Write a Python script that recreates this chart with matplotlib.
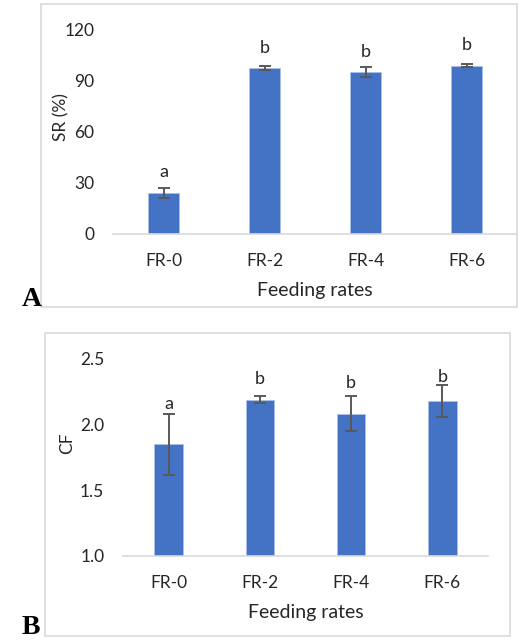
import matplotlib
matplotlib.use("Agg")
import matplotlib.pyplot as plt
from matplotlib.patches import Rectangle

categories = ["FR-0", "FR-2", "FR-4", "FR-6"]
sr_values = [24.0, 97.0, 94.8, 98.5]
sr_errors = [3.0, 1.2, 2.8, 1.0]
sr_letters = ["a", "b", "b", "b"]
sr_letter_y = [33.4, 105.8, 103.8, 107.7]
cf_values = [1.85, 2.19, 2.085, 2.18]
cf_errors = [0.235, 0.025, 0.13, 0.123]
cf_letters = ["a", "b", "b", "b"]
cf_letter_y = [2.117, 2.308, 2.277, 2.328]
sr_ticks = [0, 30, 60, 90, 120]
cf_ticks = [1.0, 1.5, 2.0, 2.5]

plt.rcParams['font.family'] = ['Lato', 'DejaVu Sans']
W, H = 530, 641
fig = plt.figure(figsize=(W / 100, H / 100), dpi=100)

bar_color = "#4472C4"
err_color = "#595959"
grid_color = "#d9d9d9"
text_color = "#262626"


def px_axes(x0, x1, y_top, y_bot):
    return fig.add_axes([x0 / W, 1 - y_bot / H, (x1 - x0) / W, (y_bot - y_top) / H])


def border(x0, x1, y0, y1):
    fig.patches.append(Rectangle((x0 / W, 1 - y1 / H), (x1 - x0) / W, (y1 - y0) / H,
                                 transform=fig.transFigure, fill=False,
                                 edgecolor=grid_color, linewidth=1.2, zorder=0))


def draw_panel(ax, vals, errs, letters, letter_y, ticks, fmt, ylabel):
    x = list(range(len(categories)))
    base = ticks[0]
    ax.bar(x, [v - base for v in vals], bottom=base, width=0.31,
           color=bar_color, edgecolor="#a9c0e8", linewidth=0.6, zorder=2)
    ax.errorbar(x, vals, yerr=errs, fmt="none", ecolor=err_color,
                elinewidth=1.4, capsize=4, capthick=1.4, zorder=3)
    for xi, ly, l in zip(x, letter_y, letters):
        ax.text(xi, ly, l, ha="center", va="baseline", fontsize=13, color=text_color)
    ax.set_xlim(-0.5, len(categories) - 0.5)
    ax.set_ylim(ticks[0], ticks[-1])
    ax.set_yticks(ticks)
    ax.set_yticklabels([fmt.format(t) for t in ticks], fontsize=12.5, color=text_color)
    ax.set_xticks(x)
    ax.set_xticklabels(categories, fontsize=12.5, color=text_color)
    ax.tick_params(axis="y", length=0, pad=13.5)
    ax.tick_params(axis="x", length=0, pad=14)
    for s in ["top", "right", "left"]:
        ax.spines[s].set_visible(False)
    ax.spines["bottom"].set_color(grid_color)
    ax.spines["bottom"].set_linewidth(1.2)
    ax.set_facecolor("none")
    ax.set_ylabel(ylabel, fontsize=12.5, color=text_color)
    ax.set_xlabel("Feeding rates", fontsize=14, color=text_color, labelpad=9)


# Panel A
border(41, 517, 4, 307)
axA = px_axes(113, 517, 29, 234)
draw_panel(axA, sr_values, sr_errors, sr_letters, sr_letter_y, sr_ticks, "{:g}", "SR (%)")
axA.yaxis.set_label_coords(-0.109, 0.568)
fig.text(32 / W, 1 - 300 / H, "A", fontsize=20, fontweight="bold",
         family="Liberation Serif", ha="center", va="center")

# Panel B
border(45, 510, 333, 636)
axB = px_axes(123, 488, 359, 556)
draw_panel(axB, cf_values, cf_errors, cf_letters, cf_letter_y, cf_ticks, "{:.1f}", "CF")
axB.yaxis.set_label_coords(-0.131, 0.574)
fig.text(31 / W, 1 - 628 / H, "B", fontsize=20, fontweight="bold",
         family="Liberation Serif", ha="center", va="center")

fig.savefig("out.png", dpi=100)
